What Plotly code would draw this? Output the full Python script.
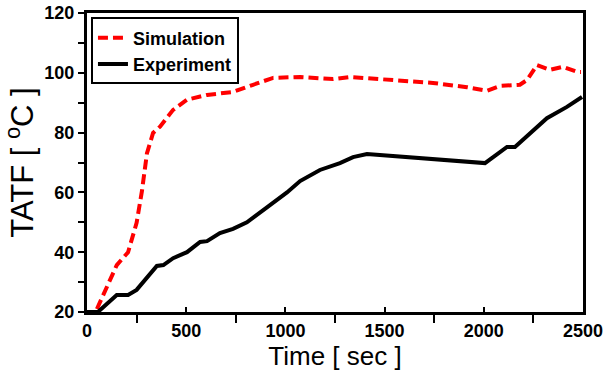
import plotly.graph_objects as go

sim_t = [50, 100, 150, 207, 250, 277, 302, 333, 368, 434, 504, 605, 736, 837, 938, 1074,
         1240, 1326, 1492, 1744, 1915, 2016, 2082, 2182, 2218, 2268, 2334, 2399, 2470, 2490]
sim_T = [21, 28, 35.7, 40, 49.8, 60.5, 73, 79.9, 82, 87.6, 91, 92.6, 93.6, 96, 98.3, 98.6,
         97.9, 98.6, 97.9, 96.6, 95.2, 94, 95.6, 96, 97.6, 102.6, 101, 102, 100.3, 100.3]

exp_t = [0, 55, 150, 207, 250, 352, 385, 434, 504, 570, 605, 670, 736, 806, 907, 1008, 1074,
         1174, 1275, 1341, 1411, 1744, 2006, 2117, 2157, 2318, 2419, 2495]
exp_T = [20, 20, 25.7, 25.7, 27.4, 35.4, 35.7, 38, 40, 43.4, 43.7, 46.4, 47.8, 50, 55, 60, 63.8,
         67.5, 69.8, 71.8, 72.8, 71, 69.8, 75.2, 75.2, 84.8, 88.6, 91.9]

x_ticks = [0, 500, 1000, 1500, 2000, 2500]
y_ticks = [20, 40, 60, 80, 100, 120]

fig = go.Figure()
fig.add_trace(go.Scatter(x=sim_t, y=sim_T, mode="lines", name="Simulation",
                         line=dict(color="#ff0000", width=4, dash="10px,5px")))
fig.add_trace(go.Scatter(x=exp_t, y=exp_T, mode="lines", name="Experiment",
                         line=dict(color="black", width=4)))

fig.update_layout(
    width=604, height=380,
    margin=dict(l=87, r=21, t=13, b=68),
    paper_bgcolor="white", plot_bgcolor="white",
    font=dict(family="Liberation Sans, Arial, sans-serif", color="black"),
    showlegend=True,
    legend=dict(x=0.008, y=0.985, xanchor="left", yanchor="top",
                bordercolor="black", borderwidth=2, bgcolor="white",
                font=dict(size=18, family="Liberation Sans, Arial, sans-serif", weight="bold"),
                tracegroupgap=2, itemwidth=30),
)
fig.update_xaxes(
    range=[0, 2500], tickvals=x_ticks, ticktext=[str(v) for v in x_ticks],
    showline=True, linecolor="black", linewidth=3, mirror=True,
    ticks="inside", ticklen=5, tickwidth=2, tickcolor="black",
    minor=dict(tick0=250, dtick=500, ticks="outside", ticklen=8, tickwidth=2, tickcolor="black", showgrid=False),
    showgrid=False, zeroline=False, automargin=False, ticklabeloverflow="allow",
    tickfont=dict(size=18, weight="bold"),
    title=dict(text="Time [ sec ]", font=dict(size=26), standoff=0),
)
fig.update_yaxes(
    range=[20, 120], tickvals=y_ticks, ticktext=[str(v) for v in y_ticks],
    showline=True, linecolor="black", linewidth=3, mirror=True,
    ticks="outside", ticklen=6, tickwidth=2, tickcolor="black",
    minor=dict(tick0=10, dtick=20, ticks="outside", ticklen=6, tickwidth=2, tickcolor="black", showgrid=False),
    showgrid=False, zeroline=False, automargin=False, ticklabeloverflow="allow",
    tickfont=dict(size=18, weight="bold"),
    title=dict(text="TATF [ <sup>o</sup>C ]", font=dict(size=31), standoff=6),
)

fig.write_html("out.html", config={"displayModeBar": False},
               post_script="document.body.style.margin='0';document.body.style.overflow='hidden';")
